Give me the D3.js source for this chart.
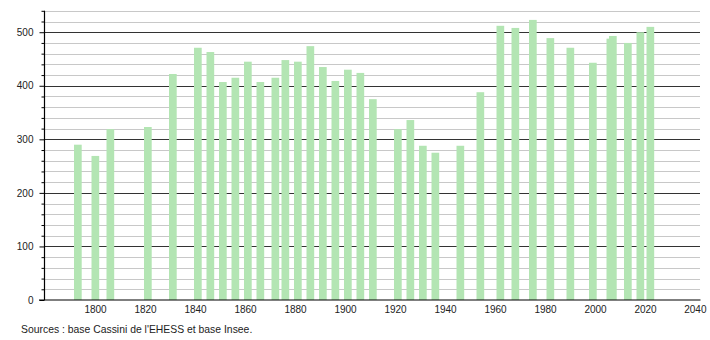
<!DOCTYPE html>
<html>
<head>
<meta charset="utf-8">
<script src="https://cdn.jsdelivr.net/npm/d3@7"></script>
<style>
  html, body { margin: 0; padding: 0; background: #fff; }
  svg { display: block; }
  text { font-family: "Liberation Sans", Arial, sans-serif; fill: #222; }
</style>
</head>
<body>
<svg id="chart" width="710" height="340"></svg>
<script>
const years = [1793, 1800, 1806, 1821, 1831, 1841, 1846, 1851, 1856, 1861, 1866, 1872, 1876, 1881, 1886, 1891, 1896, 1901, 1906, 1911, 1921, 1926, 1931, 1936, 1946, 1954, 1962, 1968, 1975, 1982, 1990, 1999, 2006, 2007, 2013, 2018, 2022];
const population = [290, 269, 319, 323, 422, 471, 463, 407, 415, 445, 407, 415, 448, 445, 474, 435, 409, 430, 424, 375, 319, 336, 288, 275, 288, 388, 512, 508, 523, 489, 471, 443, 488, 493, 480, 500, 510];
const xTickLabels = [1800, 1820, 1840, 1860, 1880, 1900, 1920, 1940, 1960, 1980, 2000, 2020, 2040];
const yTickLabels = [0, 100, 200, 300, 400, 500];
const yMinorTicks = d3.range(0, 541, 20);
const sourceText = "Sources : base Cassini de l'EHESS et base Insee.";

const svg = d3.select("#chart");
const x = d3.scaleLinear().domain([1780, 2042]).range([45, 700]);
const y = d3.scaleLinear().domain([0, 540]).range([300, 10.8]);

// minor gridlines
svg.append("g").selectAll("line").data(yMinorTicks.filter(v => v % 100 !== 0))
  .join("line")
  .attr("x1", x.range()[0]).attr("x2", x.range()[1])
  .attr("y1", d => Math.round(y(d)) + 0.5).attr("y2", d => Math.round(y(d)) + 0.5)
  .attr("stroke", "#c8c8c8").attr("stroke-width", 1);

// major gridlines
svg.append("g").selectAll("line").data(yTickLabels.filter(v => v > 0))
  .join("line")
  .attr("x1", x.range()[0]).attr("x2", x.range()[1])
  .attr("y1", d => Math.round(y(d)) + 0.5).attr("y2", d => Math.round(y(d)) + 0.5)
  .attr("stroke", "#333").attr("stroke-width", 1);

// bars
const data = years.map((yr, i) => ({ year: yr, value: population[i] }));
svg.append("g").selectAll("rect").data(data)
  .join("rect")
  .attr("x", d => x(d.year) - 3.5)
  .attr("width", 7.7)
  .attr("y", d => y(d.value))
  .attr("height", d => y(0) - y(d.value))
  .attr("fill", "#b3e5b3");

// y axis (major ticks)
const yAxis = d3.axisLeft(y).tickValues(yTickLabels).tickSize(5).tickPadding(6).tickFormat(d3.format("d"));
const gy = svg.append("g").attr("transform", `translate(${x.range()[0] - 0.5},0)`).call(yAxis);
gy.select(".domain").remove();
gy.selectAll(".tick line").attr("stroke", "#000");
gy.selectAll("text").attr("font-size", 10).style("font-family", "'Liberation Sans', Arial, sans-serif").attr("fill", "#222");
// minor ticks
const yMinorAxis = d3.axisLeft(y).tickValues(yMinorTicks.filter(v => v % 100 !== 0)).tickSize(3).tickFormat("");
const gym = svg.append("g").attr("transform", `translate(${x.range()[0] - 0.5},0)`).call(yMinorAxis);
gym.select(".domain").remove();
gym.selectAll(".tick line").attr("stroke", "#000");
// y axis line
svg.append("line")
  .attr("x1", x.range()[0] - 0.5).attr("x2", x.range()[0] - 0.5)
  .attr("y1", y.range()[1]).attr("y2", y(0))
  .attr("stroke", "#000").attr("stroke-width", 1.2);

// x axis
const xAxis = d3.axisBottom(x).tickValues(xTickLabels).tickSize(0).tickPadding(6).tickFormat(d3.format("d"));
const gx = svg.append("g").attr("transform", `translate(0,${y(0)})`).call(xAxis);
gx.select(".domain").remove();
gx.selectAll("text").attr("font-size", 10).style("font-family", "'Liberation Sans', Arial, sans-serif").attr("fill", "#222");
gx.selectAll(".tick").filter(d => d === 2040).select("text").attr("text-anchor", "end").attr("dx", 11);
svg.append("line")
  .attr("x1", 39).attr("x2", x.range()[1] + 0.5)
  .attr("y1", y(0)).attr("y2", y(0))
  .attr("stroke", "#000").attr("stroke-width", 1.2);

// source
svg.append("text")
  .attr("x", 21).attr("y", 333)
  .attr("font-size", 10.4)
  .text(sourceText);
</script>
</body>
</html>
